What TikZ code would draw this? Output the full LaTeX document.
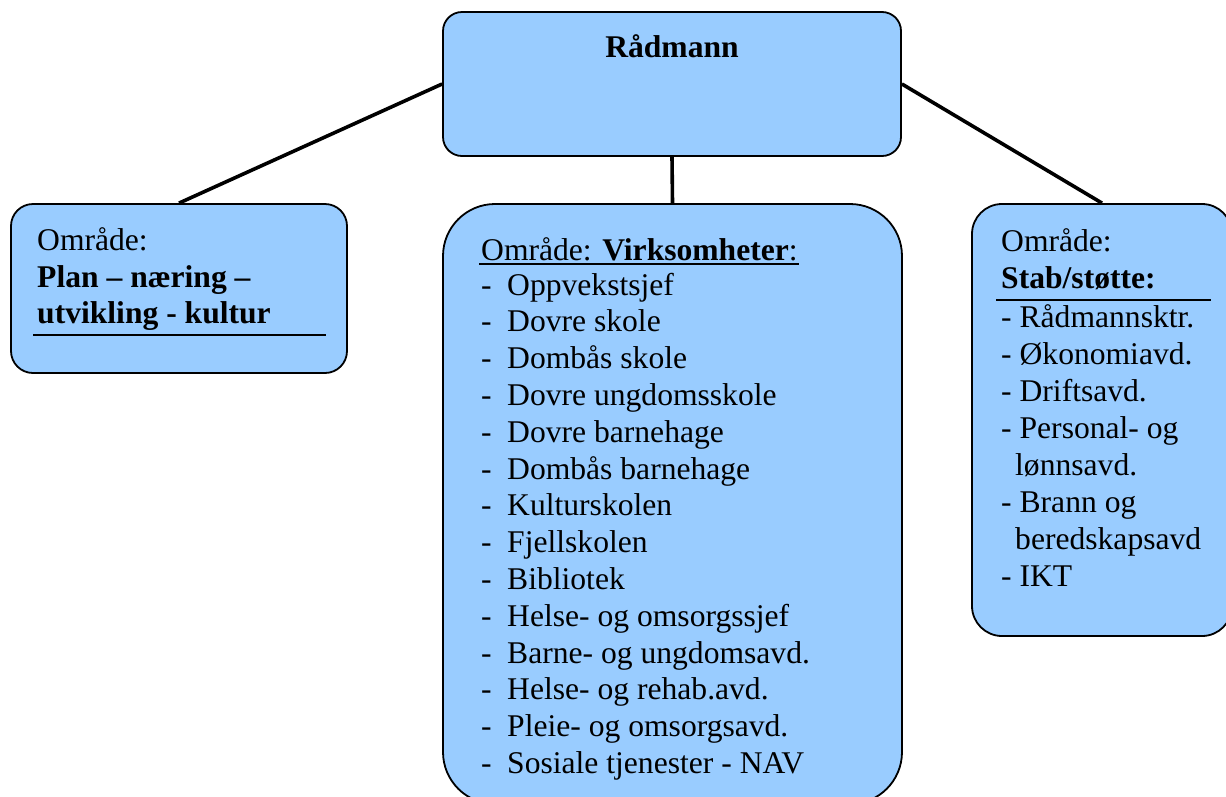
\documentclass[tikz,border=0pt]{standalone}
\usepackage{fontspec}
\setmainfont{Liberation Serif}
\definecolor{boxblue}{RGB}{153,204,255}
\newcommand{\orgfont}{\fontsize{31.6pt}{36.8pt}\selectfont}

\begin{document}
\begin{tikzpicture}[x=1pt,y=-1pt,
  orgbox/.style={draw,line width=1.8pt,fill=boxblue,inner sep=0pt},
  txt/.style={anchor=base west,inner sep=0pt,font=\orgfont},
  link/.style={line width=3.6pt},
  rule/.style={line width=2pt}]

  \path[use as bounding box] (0,0) rectangle (1226,796);
  \clip (0,0) rectangle (1226,796);

  \begin{scope}[every node/.style={orgbox}]
    \node[minimum width=458pt,minimum height=144pt,rounded corners=19pt] (raadmann) at (672,84)    {};
    \node[minimum width=336pt,minimum height=169pt,rounded corners=22pt] (plan)     at (179,288.5) {};
    \node[minimum width=459pt,minimum height=600pt,rounded corners=52pt] (virk)     at (672.5,504) {};
    \node[minimum width=260pt,minimum height=432pt,rounded corners=30pt] (stab)     at (1102,420)  {};
  \end{scope}

  \draw[link] (raadmann.west)  -- (plan.north);
  \draw[link] (raadmann.south) -- (virk.north);
  \draw[link] (raadmann.east)  -- (stab.north);

  \node[txt,font=\orgfont\bfseries,anchor=base] (tittel) at (672,57) {Rådmann};

  % plan
  \node[txt] (p0) at (37,250) {Område:};
  \node[txt,font=\orgfont\bfseries] (p1) at (37,287) {Plan – næring –};
  \node[txt,font=\orgfont\bfseries] (p2) at (37,323) {utvikling - kultur};
  \draw[rule] (33,335) -- (326,335);

  % virksomheter
  \node[txt] (v0) at (481,260) {Område: \textbf{Virksomheter}:};
  \draw[rule] (479,264) -- (799,264);
  \foreach \avd [count=\i] in {Oppvekstsjef, Dovre skole, Dombås skole,
      Dovre ungdomsskole, Dovre barnehage, Dombås barnehage, Kulturskolen,
      Fjellskolen, Bibliotek, Helse- og omsorgssjef, Barne- og ungdomsavd.,
      Helse- og rehab.avd., Pleie- og omsorgsavd., Sosiale tjenester - NAV} {
    \node[txt] (d\i) at (481,258.2+36.8*\i) {-};
    \node[txt] (v\i) at (507,258.2+36.8*\i) {\avd};
  }

  % stab
  \node[txt] (s0) at (1001,251) {Område:};
  \node[txt,font=\orgfont\bfseries] (s1) at (1001,288) {Stab/støtte:};
  \draw[rule] (996,300) -- (1211,300);
  \foreach \avd/\dx [count=\i] in {- Rådmannsktr./0, - Økonomiavd./0,
      - Driftsavd./0, - Personal- og/0, lønnsavd./14, - Brann og/0,
      beredskapsavd/14, - IKT/0} {
    \node[txt] (s\i) at (1001+\dx,291+36.9*\i) {\avd};
  }

\end{tikzpicture}
\end{document}
